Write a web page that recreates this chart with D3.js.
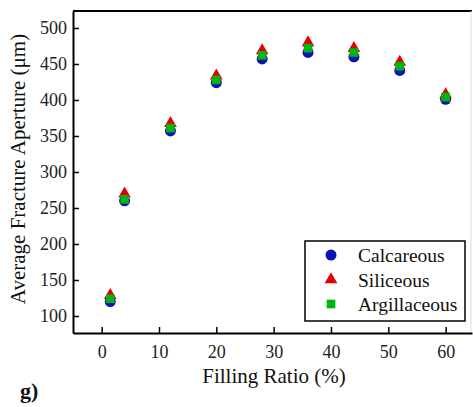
<!DOCTYPE html>
<html>
<head>
<meta charset="utf-8">
<script src="https://cdn.jsdelivr.net/npm/d3@7"></script>
<style>
  body { margin: 0; background: #fff; }
</style>
</head>
<body>
<svg id="chart" width="473" height="407" font-family="Liberation Serif"></svg>
<script>
const fillingRatio = [1.5, 4, 12, 20, 28, 36, 44, 52, 60];
const calcareous = [120, 260, 357, 424, 457, 466, 460, 441, 401];
const siliceous = [130, 271, 369, 435, 470, 481, 473, 454, 409];
const argillaceous = [124, 262, 361, 428, 462, 472, 466, 447, 404];
const xTicks = [0, 10, 20, 30, 40, 50, 60];
const yTicks = [100, 150, 200, 250, 300, 350, 400, 450, 500];

const FONT = 'Liberation Serif';

const series = [
  { name: 'Calcareous', values: calcareous, color: '#0a14b4', symbol: d3.symbolCircle, size: 95 },
  { name: 'Siliceous', values: siliceous, color: '#e60000', symbol: d3.symbolTriangle, size: 70 },
  { name: 'Argillaceous', values: argillaceous, color: '#00b414', symbol: d3.symbolSquare, size: 75 }
];

const svg = d3.select('#chart');
const plot = { left: 73, right: 472, top: 11, bottom: 333 };

const x = d3.scaleLinear().domain([-5, 64.6]).range([plot.left, plot.right]);
const y = d3.scaleLinear().domain([76.4, 523.6]).range([plot.bottom, plot.top]);

// frame: top line heavy, right edge faint (cropped)
svg.append('line')
  .attr('x1', plot.left).attr('x2', plot.right).attr('y1', plot.top).attr('y2', plot.top)
  .attr('stroke', '#000').attr('stroke-width', 2);
svg.append('line')
  .attr('x1', plot.right - 1).attr('x2', plot.right - 1).attr('y1', plot.top).attr('y2', plot.bottom)
  .attr('stroke', '#ddd').attr('stroke-width', 1);

// axes with inward ticks
const xAxis = svg.append('g')
  .attr('transform', `translate(0,${plot.bottom})`)
  .call(d3.axisBottom(x).tickValues(xTicks).tickSizeInner(-6).tickSizeOuter(0).tickPadding(12));
const yAxis = svg.append('g')
  .attr('transform', `translate(${plot.left},0)`)
  .call(d3.axisLeft(y).tickValues(yTicks).tickSizeInner(-6).tickSizeOuter(0).tickPadding(6));

[xAxis, yAxis].forEach((g) => {
  g.attr('font-family', FONT).attr('font-size', 18);
  g.select('.domain').attr('stroke', '#000').attr('stroke-width', 2);
  g.selectAll('.tick line').attr('stroke', '#000').attr('stroke-width', 1.5);
  g.selectAll('.tick text')
    .attr('font-family', FONT).attr('font-size', 18).attr('fill', '#222');
});

// markers
series.forEach((s) => {
  svg.append('g')
    .selectAll('path')
    .data(s.values)
    .join('path')
    .attr('d', d3.symbol().type(s.symbol).size(s.size))
    .attr('transform', (d, i) => `translate(${x(fillingRatio[i])},${y(d) + (s.symbol === d3.symbolTriangle ? 1 : 0)})`)
    .attr('fill', s.color);
});

// axis titles
svg.append('text')
  .attr('x', 274).attr('y', 383)
  .attr('text-anchor', 'middle').attr('font-family', FONT).attr('font-size', 21).attr('fill', '#111')
  .text('Filling Ratio (%)');
svg.append('text')
  .attr('transform', 'translate(25,169) rotate(-90)')
  .attr('text-anchor', 'middle').attr('font-family', FONT).attr('font-size', 21).attr('fill', '#111')
  .text('Average Fracture Aperture (μm)');

svg.append('text')
  .attr('x', 20).attr('y', 398)
  .attr('font-family', FONT).attr('font-size', 22).attr('font-weight', 'bold').attr('fill', '#111')
  .text('g)');

// legend
const legend = svg.append('g');
legend.append('rect')
  .attr('x', 305).attr('y', 241).attr('width', 160).attr('height', 80)
  .attr('fill', '#fff').attr('stroke', '#000').attr('stroke-width', 1.5);
series.forEach((s, i) => {
  const cy = 255 + i * 24.5;
  legend.append('path')
    .attr('d', d3.symbol().type(s.symbol).size(s.size))
    .attr('transform', `translate(331,${cy})`)
    .attr('fill', s.color);
  legend.append('text')
    .attr('x', 358).attr('y', cy + 7)
    .attr('font-family', FONT).attr('font-size', 19.5).attr('fill', '#111')
    .text(s.name);
});
</script>
</body>
</html>
